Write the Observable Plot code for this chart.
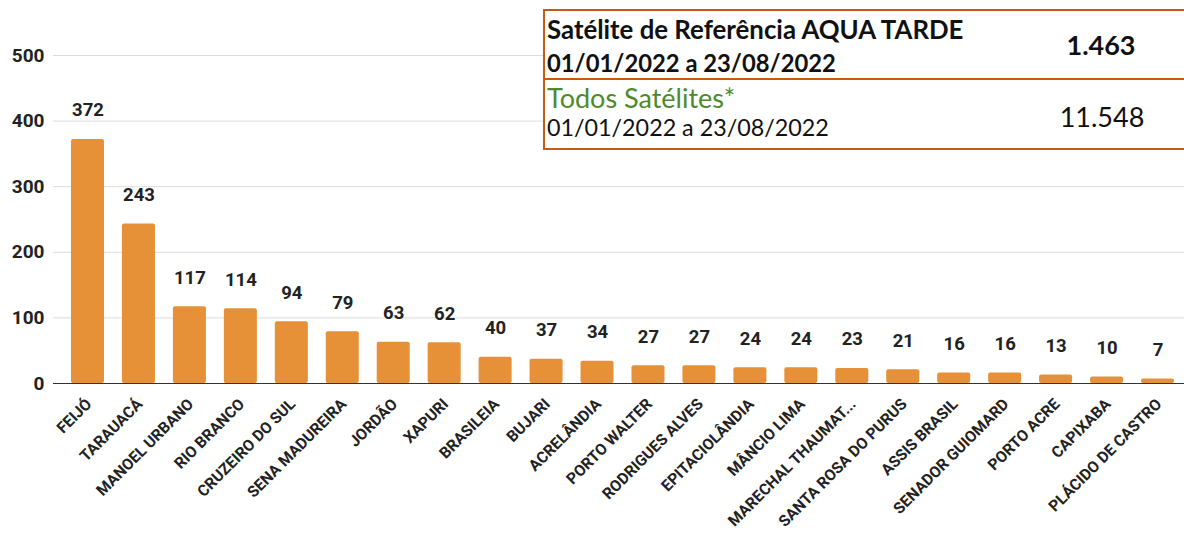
<!DOCTYPE html>
<html>
<head>
<meta charset="utf-8">
<script src="https://cdn.jsdelivr.net/npm/d3@7"></script>
<script src="https://cdn.jsdelivr.net/npm/@observablehq/plot@0.6"></script>
<style>
  html, body { margin: 0; padding: 0; background: #fff; overflow: hidden; }
  #wrap { position: relative; width: 1184px; height: 536px; overflow: hidden; }
  #box {
    position: absolute; left: 543px; top: 8.75px; width: 700px; height: 141.5px;
    border: 2.5px solid #c55a11; border-right: none; box-sizing: border-box; background: #fff;
  }
  #mid { position: absolute; left: 543px; top: 77.75px; width: 700px; height: 2.5px; background: #c55a11; }
  .t { position: absolute; font-family: Lato, "Open Sans", sans-serif; color: #111; line-height: 1; white-space: nowrap; }
  .n { position: absolute; width: 200px; text-align: center; font-family: Lato, "Open Sans", sans-serif; color: #111; line-height: 1; font-size: 27px; }
</style>
</head>
<body>
<div id="wrap">
  <div id="chart"></div>
  <div id="box"></div>
  <div id="mid"></div>
  <div class="t" style="left:547px;top:17px;font-size:25.8px;font-weight:700;">Satélite de Referência AQUA TARDE</div>
  <div class="t" style="left:547px;top:52px;font-size:23.8px;font-weight:700;">01/01/2022 a 23/08/2022</div>
  <div class="t" style="left:547px;top:84px;font-size:27px;color:#4e8a2c;">Todos Satélites*</div>
  <div class="t" style="left:547px;top:116px;font-size:23.3px;">01/01/2022 a 23/08/2022</div>
  <div class="n" style="left:1001px;top:31px;font-weight:700;">1.463</div>
  <div class="n" style="left:1002px;top:103px;">11.548</div>
</div>
<script>
const municipios = ["FEIJÓ","TARAUACÁ","MANOEL URBANO","RIO BRANCO","CRUZEIRO DO SUL","SENA MADUREIRA","JORDÃO","XAPURI","BRASILEIA","BUJARI","ACRELÂNDIA","PORTO WALTER","RODRIGUES ALVES","EPITACIOLÂNDIA","MÂNCIO LIMA","MARECHAL THAUMAT...","SANTA ROSA DO PURUS","ASSIS BRASIL","SENADOR GUIOMARD","PORTO ACRE","CAPIXABA","PLÁCIDO DE CASTRO"];
const focos = [372,243,117,114,94,79,63,62,40,37,34,27,27,24,24,23,21,16,16,13,10,7];
const yTicks = [0,100,200,300,400,500];

const data = municipios.map((m, i) => ({municipio: m, focos: focos[i]}));

const chart = Plot.plot({
  width: 1184,
  height: 536,
  marginLeft: 53,
  marginRight: 0,
  marginTop: 55,
  marginBottom: 153,
  style: {fontFamily: "Roboto, sans-serif", background: "transparent"},
  x: {domain: municipios, range: [53, 1192], paddingInner: 0.352, paddingOuter: 0.353, round: false, axis: null},
  y: {domain: [0, 500], ticks: yTicks, label: null},
  marks: [
    Plot.gridY(yTicks, {stroke: "#dcdcdc", strokeOpacity: 1, strokeWidth: 1}),
    Plot.axisY(yTicks, {tickSize: 0, tickPadding: 9, fontSize: 19, fontWeight: 700, fill: "#222", label: null}),
    Plot.barY(data, {x: "municipio", y: "focos", fill: "#e69138", rx: 2}),
    Plot.ruleY([0], {stroke: "#333", strokeWidth: 1.2}),
    Plot.text(data, {x: "municipio", y: "focos", text: d => String(d.focos), dy: -29, fontSize: 18.5, fontWeight: 700, fill: "#222"}),
    Plot.text(data, {x: "municipio", frameAnchor: "bottom", text: "municipio", rotate: -45, textAnchor: "end", lineAnchor: "middle", dx: 1, dy: 18, fontSize: 15.6, fontWeight: 700, fill: "#222"})
  ]
});
document.getElementById("chart").appendChild(chart);
</script>
</body>
</html>
